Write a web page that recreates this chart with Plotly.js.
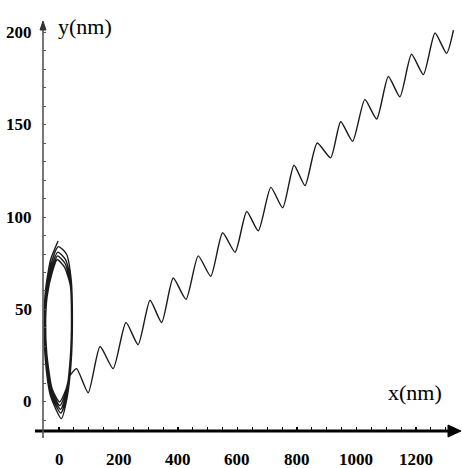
<!DOCTYPE html>
<html>
<head>
<meta charset="utf-8">
<script src="https://cdn.plot.ly/plotly-3.0.1.min.js"></script>
<style>html,body{margin:0;padding:0;background:#fff;}#chart{width:462px;height:468px;}</style>
</head>
<body>
<div id="chart"></div>
<script>
// Loop (several cycles near x = 0)
var loopX = [-3, -28, -45, -50, -46, -28, 8, 28, 41, 45, 41, 25,
             -2, -26, -43, -48, -44, -27, 6, 27, 40, 44, 40, 22,
             -4, -25, -42, -47, -43, -25, 5, 26, 39, 43, 39, 20,
             -5, -24, -41, -46, -42, -24, 3, 25, 38, 42, 38, 18,
             -6, -23, -40, -45, -41, -23, 2, 24, 36];
var loopY = [87, 77, 61, 44, 23, 3, -9, 3, 22, 44, 66, 80,
             84, 75, 60, 44, 24, 4, -6, 4, 23, 44, 65, 77,
             81, 73, 59, 44, 25, 5, -4, 5, 24, 45, 64, 75,
             79, 71, 58, 44, 25, 6, -2, 6, 24, 45, 63, 73,
             77, 70, 57, 43, 26, 7, 0, 7, 14];
// Zigzag drift (peaks and valleys)
var zigX = [59, 98, 138, 182, 225, 266, 306, 345, 384, 427, 468, 510, 550, 592, 631, 670,
            712, 752, 790, 827, 868, 913, 947, 987, 1028, 1068, 1107, 1146, 1185, 1225, 1264, 1303, 1326];
var zigY = [18, 5, 30, 18, 43, 31, 55, 43, 67, 55.5, 79, 68, 91.5, 81, 103, 92.5,
            116, 105, 128, 117, 140, 132, 151.5, 141, 163.5, 153, 176, 165, 188, 177, 199.5, 188.5, 201];
// Tick positions (every 50 on x, every 10 on y) and the labelled values
var xTickVals = [0, 50, 100, 150, 200, 250, 300, 350, 400, 450, 500, 550, 600, 650,
                 700, 750, 800, 850, 900, 950, 1000, 1050, 1100, 1150, 1200, 1250, 1300];
var yTickVals = [-10, 0, 10, 20, 30, 40, 50, 60, 70, 80, 90, 100, 110, 120, 130, 140, 150,
                 160, 170, 180, 190, 200];
var xLabelVals = [0, 200, 400, 600, 800, 1000, 1200];
var xLabelText = ['0', '200', '400', '600', '800', '1000', '1200'];
var yLabelVals = [0, 50, 100, 150, 200];
var yLabelText = ['0', '50', '100', '150', '200'];

var W = 462, H = 468, ML = 43, MR = 2, MT = 23, MB = 37;
var PW = W - ML - MR, PH = H - MT - MB;
function px(x) { return (x - ML) / PW; }
function py(y) { return (H - MB - y) / PH; }

var traces = [
  {x: loopX.concat(zigX), y: loopY.concat(zigY), type: 'scatter', mode: 'lines',
   line: {color: '#1a1a1a', width: 1.4, shape: 'spline', smoothing: 0.6},
   hoverinfo: 'skip', showlegend: false}
];

var labelFont = {family: 'Liberation Serif', size: 17, color: '#000', weight: 'bold'};
var annotations = [
  {xref: 'paper', yref: 'paper', x: px(85), y: py(27), text: 'y(nm)', showarrow: false,
   xanchor: 'center', yanchor: 'middle',
   font: {family: 'Liberation Serif', size: 22, color: '#000'}},
  {xref: 'paper', yref: 'paper', x: px(415), y: py(392), text: 'x(nm)', showarrow: false,
   xanchor: 'center', yanchor: 'middle',
   font: {family: 'Liberation Serif', size: 22, color: '#000'}}
];
xLabelVals.forEach(function (v, i) {
  annotations.push({xref: 'x', yref: 'paper', x: v, y: py(459), text: '<b>' + xLabelText[i] + '</b>',
    showarrow: false, xanchor: 'center', yanchor: 'middle', font: labelFont});
});
yLabelVals.forEach(function (v, i) {
  annotations.push({xref: 'paper', yref: 'y', x: px(34), y: v, text: '<b>' + yLabelText[i] + '</b>',
    showarrow: false, xanchor: 'right', yanchor: 'middle', font: labelFont});
});

var layout = {
  width: W, height: H,
  margin: {l: ML, r: MR, t: MT, b: MB, pad: 0},
  paper_bgcolor: '#fff', plot_bgcolor: '#fff',
  showlegend: false,
  xaxis: {
    range: [-53.8, 1348], showgrid: false, zeroline: false, showline: false,
    tickmode: 'array', tickvals: xTickVals, showticklabels: false,
    ticks: 'inside', ticklen: 4, tickwidth: 1.2, tickcolor: '#000'
  },
  yaxis: {
    range: [-15.7, 204.9], showgrid: false, zeroline: false, showline: false,
    tickmode: 'array', tickvals: yTickVals, showticklabels: false,
    ticks: 'inside', ticklen: 3, tickwidth: 1, tickcolor: '#555'
  },
  shapes: [
    {type: 'line', xref: 'paper', yref: 'paper', x0: px(35), x1: px(450), y0: py(431), y1: py(431),
     line: {color: '#000', width: 3}},
    {type: 'path', xref: 'paper', yref: 'paper',
     path: 'M ' + px(448) + ' ' + py(425) + ' L ' + px(461) + ' ' + py(431) + ' L ' + px(448) + ' ' + py(437) + ' Z',
     fillcolor: '#000', line: {color: '#000', width: 1}},
    {type: 'line', xref: 'paper', yref: 'paper', x0: px(43), x1: px(43), y0: py(438), y1: py(27),
     line: {color: '#555', width: 1.6}},
    {type: 'path', xref: 'paper', yref: 'paper',
     path: 'M ' + px(40) + ' ' + py(30) + ' L ' + px(43) + ' ' + py(21) + ' L ' + px(46) + ' ' + py(30) + ' Z',
     fillcolor: '#333', line: {color: '#333', width: 1}}
  ],
  annotations: annotations
};

Plotly.newPlot('chart', traces, layout, {displayModeBar: false, staticPlot: true});
</script>
</body>
</html>
